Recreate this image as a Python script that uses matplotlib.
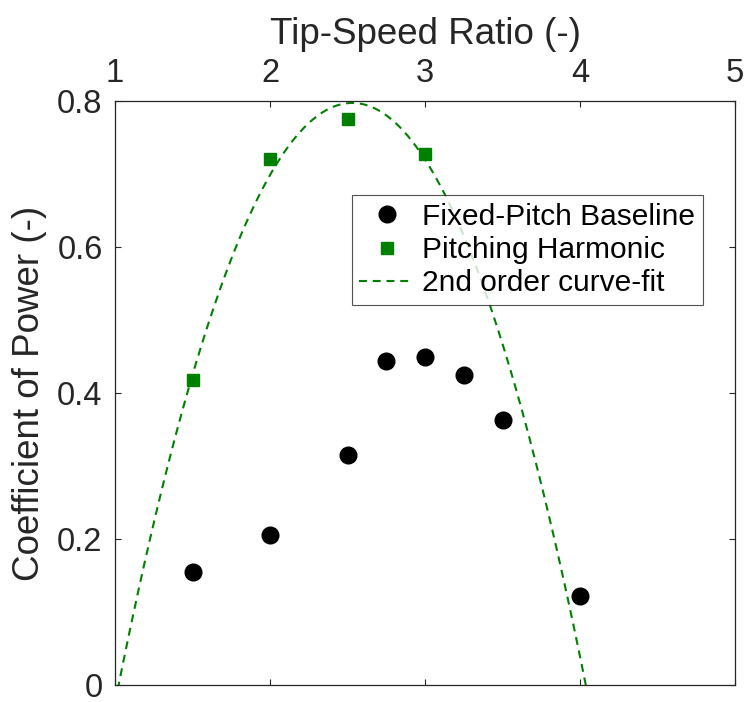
import matplotlib.pyplot as plt
import numpy as np

plt.rcParams['font.family'] = ['Liberation Sans', 'DejaVu Sans']

tsr_fixed = [1.5, 2.0, 2.5, 2.75, 3.0, 3.25, 3.5, 4.0]
cp_fixed = [0.155, 0.206, 0.315, 0.444, 0.450, 0.425, 0.363, 0.122]

tsr_pitch = [1.5, 2.0, 2.5, 3.0]
cp_pitch = [0.418, 0.720, 0.776, 0.727]

x_ticks = [1, 2, 3, 4, 5]
y_ticks = [0, 0.2, 0.4, 0.6, 0.8]
y_ticklabels = ['0', '0.2', '0.4', '0.6', '0.8']

# 2nd order fit of the pitching data
coef = np.polyfit(tsr_pitch, cp_pitch, 2)
xf = np.linspace(0.9, 4.2, 400)
yf = np.polyval(coef, xf)

dark = '#262626'
fig = plt.figure(figsize=(7.47, 7.02), dpi=100)
ax = fig.add_axes([0.154, 0.024, 0.83, 0.832])

ax.plot(tsr_fixed, cp_fixed, 'o', color='black', markersize=12, label='Fixed-Pitch Baseline')
ax.plot(tsr_pitch, cp_pitch, 's', color='#008000', markersize=9, label='Pitching Harmonic')
ax.plot(xf, yf, '--', color='#008000', linewidth=1.5, dashes=(3.8, 2.8), label='2nd order curve-fit')

ax.set_xlim(1, 5)
ax.set_ylim(0, 0.8)
ax.set_xticks(x_ticks)
ax.set_yticks(y_ticks)
ax.set_yticklabels(y_ticklabels)
ax.xaxis.tick_top()
ax.xaxis.set_label_position('top')
ax.tick_params(direction='in', length=4, width=0.8, colors=dark, labelsize=23.5,
               top=True, bottom=True, left=True, right=True)
ax.tick_params(axis='x', pad=9)
ax.tick_params(axis='y', pad=9)
for s in ax.spines.values():
    s.set_color(dark)
    s.set_linewidth(0.9)

ax.set_xlabel('Tip-Speed Ratio (-)', fontsize=26.5, color=dark, labelpad=9.5)
ax.set_ylabel('Coefficient of Power (-)', fontsize=26.5, color=dark, labelpad=7)

leg = ax.legend(loc='upper right', bbox_to_anchor=(0.948, 0.839), fontsize=21.5,
                frameon=True, fancybox=False, borderpad=0.25, labelspacing=0.18,
                handlelength=1.85, handletextpad=0.27, borderaxespad=0)
leg.get_frame().set_edgecolor(dark)
leg.get_frame().set_linewidth(0.8)

fig.savefig('out.png', dpi=100)
